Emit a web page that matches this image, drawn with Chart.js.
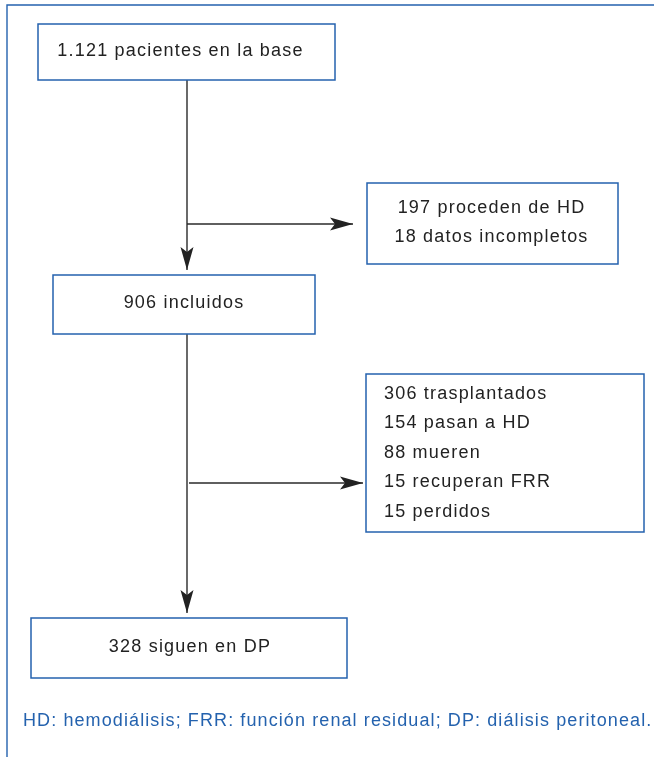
<!DOCTYPE html>
<html>
<head>
<meta charset="utf-8">
<script src="https://cdn.jsdelivr.net/npm/chart.js"></script>
<style>
  html, body { margin: 0; padding: 0; background: #fff; }
  #wrap { width: 654px; height: 757px; }
</style>
</head>
<body>
<div id="wrap"><canvas id="flujo" width="654" height="757"></canvas></div>
<script>
// datos del diagrama
const pasosTexto = ['pacientes en la base', 'incluidos', 'siguen en DP'];
const pasosN = [1121, 906, 328];
const exclusion1Texto = ['proceden de HD', 'datos incompletos'];
const exclusion1N = [197, 18];
const exclusion2Texto = ['trasplantados', 'pasan a HD', 'mueren', 'recuperan FRR', 'perdidos'];
const exclusion2N = [306, 154, 88, 15, 15];
const nota = 'HD: hemodiálisis; FRR: función renal residual; DP: diálisis peritoneal.';

// "1.121" con punto de miles
function fmt(n) {
    return String(n).replace(/\B(?=(\d{3})+(?!\d))/g, '.');
}

// posiciones en unidades de los ejes (0..654, 0..757)
const cajasPaso = [[38, 24, 335, 80], [53, 275, 315, 334], [31, 618, 347, 678]];
const cajasExcl = [[367, 183, 618, 264], [366, 374, 644, 532]];
const desplTexto = [-6, 0, 1];
const ejeX = 187;
const ramas = [224, 483];

const azul = '#2462ae';
const negro = '#222';
const fuente = '18px "Liberation Sans", Arial, sans-serif';

function flecha(ctx, x0, y0, x1, y1) {
    ctx.beginPath();
    ctx.moveTo(x0, y0);
    ctx.lineTo(x1, y1);
    ctx.stroke();
    const a = Math.atan2(y1 - y0, x1 - x0);
    const L = 23, W = 6.5, N = 18;
    ctx.save();
    ctx.translate(x1, y1);
    ctx.rotate(a);
    ctx.beginPath();
    ctx.moveTo(0, 0);
    ctx.lineTo(-L, -W);
    ctx.lineTo(-N, 0);
    ctx.lineTo(-L, W);
    ctx.closePath();
    ctx.fill();
    ctx.restore();
}

const diagrama = {
    id: 'diagrama',
    afterDraw(chart) {
        const ctx = chart.ctx;
        const sx = chart.scales.x, sy = chart.scales.y;
        const px = v => sx.getPixelForValue(v);
        const py = v => sy.getPixelForValue(v);
        ctx.save();

        // marco
        ctx.strokeStyle = azul;
        ctx.lineWidth = 1.4;
        ctx.beginPath();
        ctx.moveTo(px(7), py(757));
        ctx.lineTo(px(7), py(5));
        ctx.lineTo(px(654), py(5));
        ctx.stroke();

        // conectores
        ctx.strokeStyle = '#2a2a2a';
        ctx.fillStyle = negro;
        ctx.lineWidth = 1.4;
        flecha(ctx, px(ejeX), py(cajasPaso[0][3]), px(ejeX), py(cajasPaso[1][1] - 5));
        flecha(ctx, px(ejeX), py(cajasPaso[1][3]), px(ejeX), py(cajasPaso[2][1] - 5));
        flecha(ctx, px(ejeX), py(ramas[0]), px(cajasExcl[0][0] - 14), py(ramas[0]));
        flecha(ctx, px(ejeX + 2), py(ramas[1]), px(cajasExcl[1][0] - 3), py(ramas[1]));

        // cajas
        ctx.strokeStyle = azul;
        ctx.lineWidth = 1.5;
        ctx.fillStyle = '#fff';
        [...cajasPaso, ...cajasExcl].forEach(b => {
            ctx.fillRect(px(b[0]), py(b[1]), px(b[2]) - px(b[0]), py(b[3]) - py(b[1]));
            ctx.strokeRect(px(b[0]), py(b[1]), px(b[2]) - px(b[0]), py(b[3]) - py(b[1]));
        });

        // textos
        ctx.fillStyle = negro;
        ctx.font = fuente;
        ctx.letterSpacing = '1.2px';
        ctx.textBaseline = 'middle';
        ctx.textAlign = 'center';
        pasosTexto.forEach((t, i) => {
            const b = cajasPaso[i];
            ctx.fillText(fmt(pasosN[i]) + ' ' + t, px((b[0] + b[2]) / 2 + desplTexto[i]), py((b[1] + b[3]) / 2 - 1));
        });
        exclusion1Texto.forEach((t, i) => {
            const b = cajasExcl[0];
            ctx.fillText(fmt(exclusion1N[i]) + ' ' + t, px((b[0] + b[2]) / 2 - 1), py(b[1] + 25 + i * 29));
        });
        ctx.textAlign = 'left';
        exclusion2Texto.forEach((t, i) => {
            const b = cajasExcl[1];
            ctx.fillText(fmt(exclusion2N[i]) + ' ' + t, px(b[0] + 18), py(b[1] + 20 + i * 29.5));
        });

        // nota al pie
        ctx.fillStyle = azul;
        ctx.letterSpacing = '1.1px';
        ctx.fillText(nota, px(23), py(721));
        ctx.restore();
    }
};

new Chart(document.getElementById('flujo').getContext('2d'), {
    type: 'scatter',
    data: { datasets: [{ data: [] }] },
    options: {
        responsive: false,
        devicePixelRatio: 1,
        animation: false,
        layout: { padding: 0 },
        plugins: { legend: { display: false }, tooltip: { enabled: false } },
        scales: {
            x: { type: 'linear', min: 0, max: 654, display: false },
            y: { type: 'linear', min: 0, max: 757, reverse: true, display: false }
        }
    },
    plugins: [diagrama]
});
</script>
</body>
</html>
